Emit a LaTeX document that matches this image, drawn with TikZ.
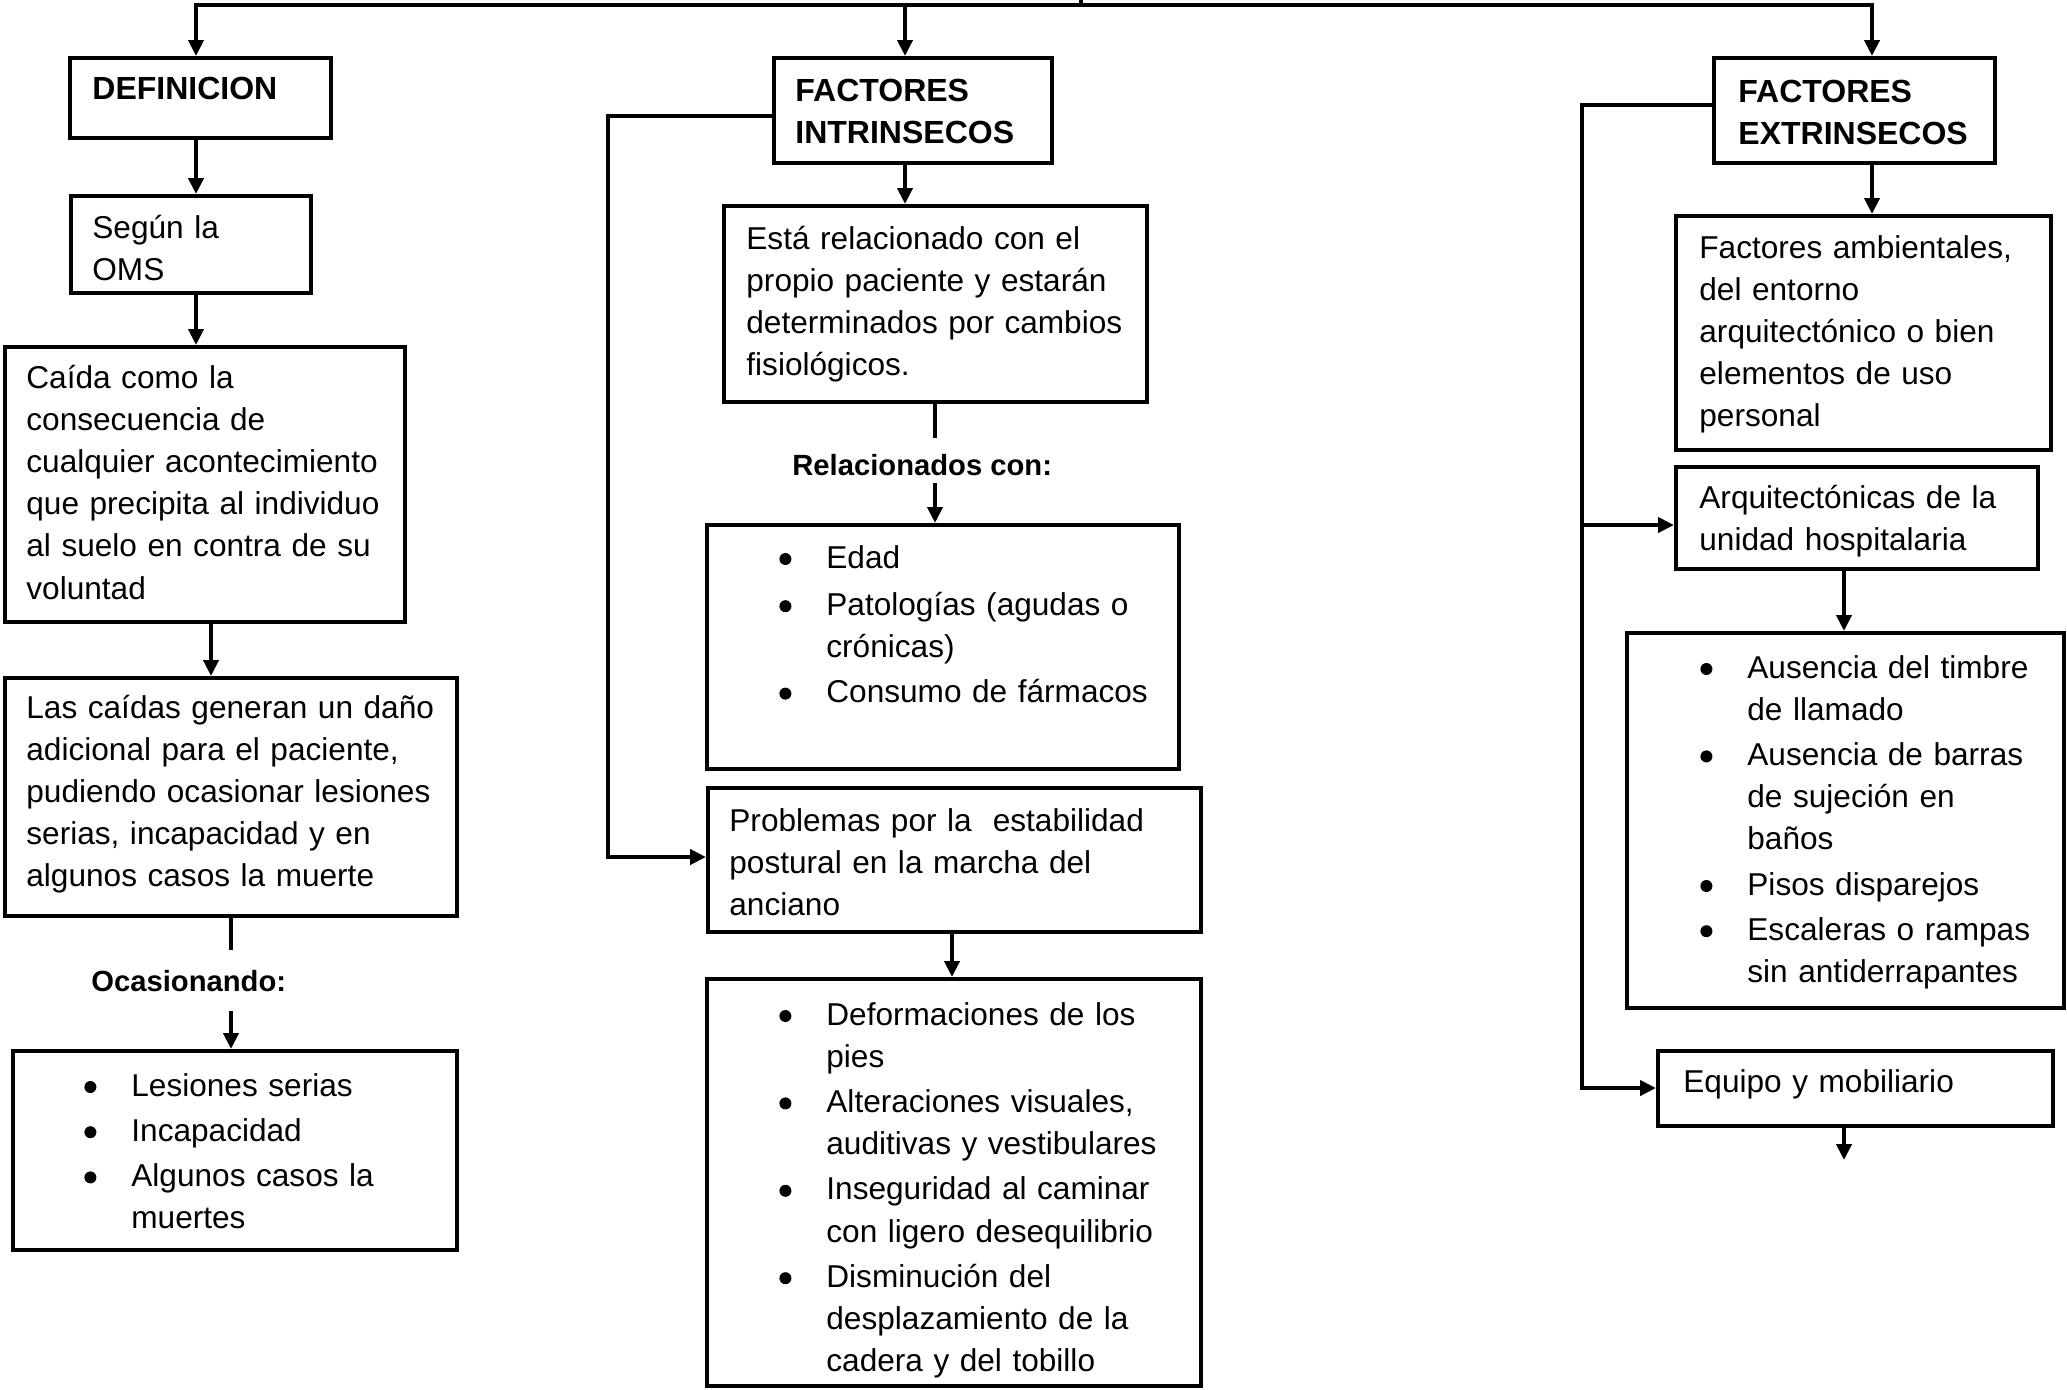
\documentclass[tikz,border=0pt]{standalone}
\usepackage{fontspec}
\setmainfont{Liberation Sans}
\usetikzlibrary{arrows.meta,fit}
\newcommand\bulit{\makebox[23.5pt][l]{\tikz[baseline=0pt]\fill (3pt,4.5pt) circle[radius=3pt];}}
\newcommand\indt{\hspace*{23.5pt}}
\tikzset{
  box/.style={draw, line width=2pt, inner sep=0pt},
  txt/.style={inner sep=0pt, anchor=base west, align=left, text width=#1,
    font=\fontsize{15.8}{21.1}\selectfont},
  txt/.default=300pt,
  btxt/.style={inner sep=0pt, anchor=base west, align=left, text width=300pt,
    font=\fontsize{16}{21.1}\selectfont\bfseries},
  lbl/.style={inner sep=0pt, anchor=base west, font=\fontsize{14.6}{17}\selectfont\bfseries},
  conn/.style={line width=2pt},
  arr/.style={line width=2pt, -{Triangle[width=7.5pt,length=8pt]}},
}
\begin{document}
\begin{tikzpicture}[x=0.5pt,y=-0.5pt]
\useasboundingbox (0,0) rectangle (2067,1389);
% helper coordinates
\coordinate (xA) at (196,0);
\coordinate (xB) at (211,0);
\coordinate (xC) at (231,0);
\coordinate (xD) at (905,0);
\coordinate (xE) at (935,0);
\coordinate (xF) at (952,0);
\coordinate (xG) at (1872,0);
\coordinate (xH) at (1844,0);
\coordinate (xI) at (608,0);
\coordinate (xJ) at (1582,0);
\coordinate (top) at (1081,0);
\coordinate (yBus) at (0,5);
\coordinate (yFi) at (0,116);
\coordinate (yProb) at (0,857);
\coordinate (yFe) at (0,105);
\coordinate (yArq) at (0,525);
\coordinate (yEq) at (0,1088);
\coordinate (ocA) at (231,950);
\coordinate (ocB) at (231,1011);
\coordinate (reA) at (935,438);
\coordinate (reB) at (935,483);
\coordinate (eqEnd) at (1844,1160);

% boxes
\node[box, fit={(70,58)(331,138)}] (def) {};
\node[box, fit={(71,196)(311,293)}] (oms) {};
\node[box, fit={(5,347)(405,622)}] (caida) {};
\node[box, fit={(5,678)(457,916)}] (danio) {};
\node[box, fit={(13,1051)(457,1250)}] (les) {};
\node[box, fit={(774,58)(1052,163)}] (fi) {};
\node[box, fit={(724,206)(1147,402)}] (esta) {};
\node[box, fit={(707,525)(1179,769)}] (edad) {};
\node[box, fit={(708,788)(1201,932)}] (prob) {};
\node[box, fit={(707,979)(1201,1386)}] (defo) {};
\node[box, fit={(1714,58)(1995,163)}] (fe) {};
\node[box, fit={(1676,216)(2051,450)}] (amb) {};
\node[box, fit={(1676,467)(2038,569)}] (arq) {};
\node[box, fit={(1627,633)(2064,1008)}] (aus) {};
\node[box, fit={(1658,1051)(2053,1126)}] (equ) {};

% texts
\node[btxt] (tdef) at (92,99) {DEFINICION};
\node[txt] (toms) at (92,238) {Según la\\OMS};
\node[txt] (tcaida) at (26,388) {Caída como la\\consecuencia de\\cualquier acontecimiento\\que precipita al individuo\\al suelo en contra de su\\voluntad};
\node[txt] (tdanio) at (26,718) {Las caídas generan un daño\\adicional para el paciente,\\pudiendo ocasionar lesiones\\serias, incapacidad y en\\algunos casos la muerte};
\node[lbl] (ocas) at (91,991) {Ocasionando:};
\node[txt] (tles) at (84,1096) {\bulit Lesiones serias\\[1.5pt]\bulit Incapacidad\\[1.5pt]\bulit Algunos casos la\\\indt muertes};

\node[btxt] (tfi) at (795,101) {FACTORES\\INTRINSECOS};
\node[txt] (testa) at (746,249) {Está relacionado con el\\propio paciente y estarán\\determinados por cambios\\fisiológicos.};
\node[lbl] (rel) at (792,475) {Relacionados con:};
\node[txt] (tedad) at (779,568) {\bulit Edad\\[2.5pt]\bulit Patologías (agudas o\\\indt crónicas)\\[1.5pt]\bulit Consumo de fármacos};
\node[txt] (tprob) at (729,831) {Problemas por la\ \ estabilidad\\postural en la marcha del\\anciano};
\node[txt] (tdefo) at (779,1025) {\bulit Deformaciones de los\\\indt pies\\[1.5pt]\bulit Alteraciones visuales,\\\indt auditivas y vestibulares\\[1.5pt]\bulit Inseguridad al caminar\\\indt con ligero desequilibrio\\[1.5pt]\bulit Disminución del\\\indt desplazamiento de la\\\indt cadera y del tobillo};

\node[btxt] (tfe) at (1738,102) {FACTORES\\EXTRINSECOS};
\node[txt] (tamb) at (1699,258) {Factores ambientales,\\del entorno\\arquitectónico o bien\\elementos de uso\\personal};
\node[txt] (tarq) at (1699,508) {Arquitectónicas de la\\unidad hospitalaria};
\node[txt] (taus) at (1700,678) {\bulit Ausencia del timbre\\\indt de llamado\\[1.5pt]\bulit Ausencia de barras\\\indt de sujeción en\\\indt baños\\[1.5pt]\bulit Pisos disparejos\\[1.5pt]\bulit Escaleras o rampas\\\indt sin antiderrapantes};
\node[txt] (teq) at (1683,1092) {Equipo y mobiliario};

% top bus
\draw[conn] (top) -- (top |- yBus);
\draw[arr] (xD |- yBus) -- (xA |- yBus) -- (def.north -| xA);
\draw[arr] (xD |- yBus) -- (xG |- yBus) -- (fe.north -| xG);
\draw[arr] (xD |- yBus) -- (fi.north -| xD);

% left column
\draw[arr] (def.south -| xA) -- (oms.north -| xA);
\draw[arr] (oms.south -| xA) -- (caida.north -| xA);
\draw[arr] (caida.south -| xB) -- (danio.north -| xB);
\draw[conn] (danio.south -| xC) -- (ocA);
\draw[arr] (ocB) -- (les.north -| xC);

% middle column
\draw[arr] (fi.south -| xD) -- (esta.north -| xD);
\draw[conn] (esta.south -| xE) -- (reA);
\draw[arr] (reB) -- (edad.north -| xE);
\draw[arr] (fi.west |- yFi) -- (xI |- yFi) -- (xI |- yProb) -- (prob.west |- yProb);
\draw[arr] (prob.south -| xF) -- (defo.north -| xF);

% right column
\draw[arr] (fe.south -| xG) -- (amb.north -| xG);
\draw[arr] (fe.west |- yFe) -- (xJ |- yFe) -- (xJ |- yEq) -- (equ.west |- yEq);
\draw[arr] (xJ |- yArq) -- (arq.west |- yArq);
\draw[arr] (arq.south -| xH) -- (aus.north -| xH);
\draw[arr] (equ.south -| xH) -- (eqEnd);
\end{tikzpicture}
\end{document}
